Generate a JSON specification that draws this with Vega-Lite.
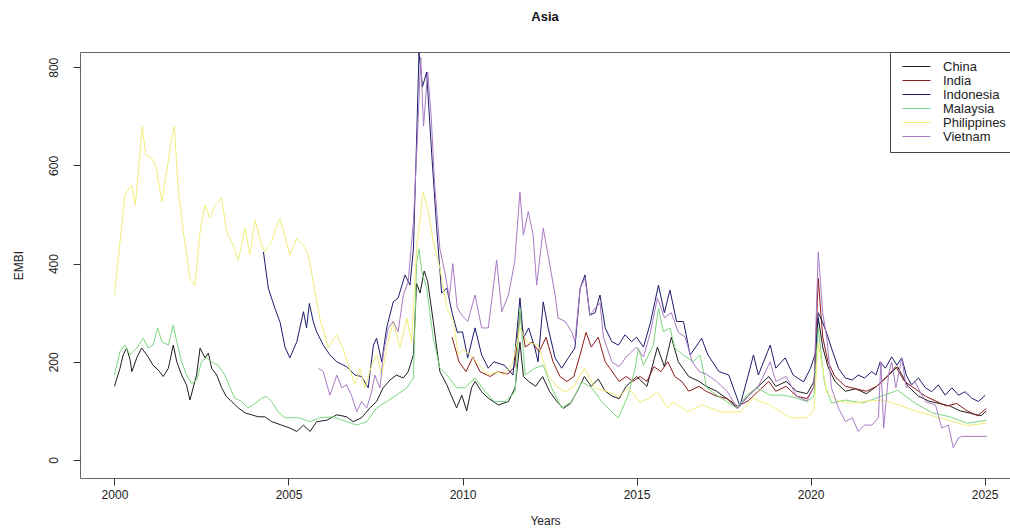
{
"$schema": "https://vega.github.io/schema/vega-lite/v6.json",
"width": 930,
"height": 426,
"autosize": {"type": "none"},
"padding": {"left": 80, "top": 52, "right": 0, "bottom": 51},
"background": "white",
"title": {"text": "Asia", "fontSize": 13, "fontWeight": "bold", "font": "Liberation Sans", "offset": 28, "anchor": "middle", "color": "#111"},
"config": {
  "view": {"stroke": "#666", "strokeWidth": 1},
  "axis": {"grid": false, "domain": false, "tickColor": "#333", "tickSize": 7, "labelColor": "#222", "labelFont": "Liberation Sans", "labelFontSize": 12, "titleFont": "Liberation Sans", "titleFontSize": 12, "titleFontWeight": "normal", "titleColor": "#222"}
},
"datasets": {
"d": [
{"s":"China","t":2000.00,"v":150},{"s":"China","t":2000.16,"v":187},{"s":"China","t":2000.25,"v":214},{"s":"China","t":2000.35,"v":228},{"s":"China","t":2000.45,"v":204},{"s":"China","t":2000.50,"v":180},{"s":"China","t":2000.64,"v":208},{"s":"China","t":2000.78,"v":228},{"s":"China","t":2000.93,"v":214},{"s":"China","t":2001.11,"v":193},{"s":"China","t":2001.26,"v":183},{"s":"China","t":2001.40,"v":170},{"s":"China","t":2001.55,"v":187},{"s":"China","t":2001.69,"v":234},{"s":"China","t":2001.79,"v":200},{"s":"China","t":2001.93,"v":173},{"s":"China","t":2002.07,"v":153},{"s":"China","t":2002.17,"v":122},{"s":"China","t":2002.26,"v":147},{"s":"China","t":2002.36,"v":173},{"s":"China","t":2002.46,"v":228},{"s":"China","t":2002.60,"v":208},{"s":"China","t":2002.70,"v":218},{"s":"China","t":2002.79,"v":187},{"s":"China","t":2002.94,"v":173},{"s":"China","t":2003.08,"v":147},{"s":"China","t":2003.22,"v":129},{"s":"China","t":2003.37,"v":119},{"s":"China","t":2003.56,"v":106},{"s":"China","t":2003.75,"v":96},{"s":"China","t":2003.94,"v":92},{"s":"China","t":2004.13,"v":88},{"s":"China","t":2004.32,"v":88},{"s":"China","t":2004.52,"v":78},{"s":"China","t":2004.80,"v":71},{"s":"China","t":2005.04,"v":65},{"s":"China","t":2005.24,"v":58},{"s":"China","t":2005.43,"v":71},{"s":"China","t":2005.62,"v":58},{"s":"China","t":2005.81,"v":78},{"s":"China","t":2006.10,"v":81},{"s":"China","t":2006.39,"v":92},{"s":"China","t":2006.67,"v":88},{"s":"China","t":2006.86,"v":78},{"s":"China","t":2007.10,"v":86},{"s":"China","t":2007.34,"v":106},{"s":"China","t":2007.53,"v":119},{"s":"China","t":2007.72,"v":147},{"s":"China","t":2007.92,"v":163},{"s":"China","t":2008.10,"v":173},{"s":"China","t":2008.30,"v":167},{"s":"China","t":2008.44,"v":180},{"s":"China","t":2008.59,"v":214},{"s":"China","t":2008.68,"v":360},{"s":"China","t":2008.78,"v":340},{"s":"China","t":2008.90,"v":385},{"s":"China","t":2009.00,"v":363},{"s":"China","t":2009.16,"v":282},{"s":"China","t":2009.35,"v":180},{"s":"China","t":2009.55,"v":153},{"s":"China","t":2009.83,"v":106},{"s":"China","t":2009.98,"v":132},{"s":"China","t":2010.12,"v":100},{"s":"China","t":2010.26,"v":147},{"s":"China","t":2010.36,"v":160},{"s":"China","t":2010.55,"v":139},{"s":"China","t":2010.74,"v":126},{"s":"China","t":2011.03,"v":112},{"s":"China","t":2011.32,"v":119},{"s":"China","t":2011.51,"v":147},{"s":"China","t":2011.65,"v":240},{"s":"China","t":2011.75,"v":170},{"s":"China","t":2011.90,"v":160},{"s":"China","t":2012.10,"v":150},{"s":"China","t":2012.30,"v":170},{"s":"China","t":2012.50,"v":140},{"s":"China","t":2012.70,"v":120},{"s":"China","t":2012.90,"v":105},{"s":"China","t":2013.10,"v":115},{"s":"China","t":2013.30,"v":140},{"s":"China","t":2013.50,"v":170},{"s":"China","t":2013.70,"v":150},{"s":"China","t":2013.90,"v":165},{"s":"China","t":2014.10,"v":140},{"s":"China","t":2014.30,"v":130},{"s":"China","t":2014.50,"v":125},{"s":"China","t":2014.70,"v":150},{"s":"China","t":2015.00,"v":170},{"s":"China","t":2015.30,"v":150},{"s":"China","t":2015.60,"v":230},{"s":"China","t":2015.80,"v":190},{"s":"China","t":2016.00,"v":250},{"s":"China","t":2016.20,"v":200},{"s":"China","t":2016.50,"v":170},{"s":"China","t":2016.80,"v":160},{"s":"China","t":2017.00,"v":150},{"s":"China","t":2017.30,"v":140},{"s":"China","t":2017.60,"v":125},{"s":"China","t":2017.90,"v":105},{"s":"China","t":2018.20,"v":130},{"s":"China","t":2018.50,"v":150},{"s":"China","t":2018.80,"v":170},{"s":"China","t":2019.00,"v":150},{"s":"China","t":2019.30,"v":160},{"s":"China","t":2019.60,"v":140},{"s":"China","t":2019.90,"v":135},{"s":"China","t":2020.10,"v":160},{"s":"China","t":2020.22,"v":290},{"s":"China","t":2020.35,"v":230},{"s":"China","t":2020.50,"v":190},{"s":"China","t":2020.70,"v":160},{"s":"China","t":2021.00,"v":140},{"s":"China","t":2021.30,"v":145},{"s":"China","t":2021.60,"v":135},{"s":"China","t":2021.90,"v":150},{"s":"China","t":2022.20,"v":170},{"s":"China","t":2022.50,"v":190},{"s":"China","t":2022.80,"v":150},{"s":"China","t":2023.10,"v":130},{"s":"China","t":2023.40,"v":120},{"s":"China","t":2023.70,"v":115},{"s":"China","t":2024.00,"v":110},{"s":"China","t":2024.30,"v":100},{"s":"China","t":2024.60,"v":95},{"s":"China","t":2024.90,"v":90},{"s":"China","t":2025.05,"v":100},
{"s":"India","t":2009.70,"v":250},{"s":"India","t":2009.90,"v":200},{"s":"India","t":2010.10,"v":180},{"s":"India","t":2010.30,"v":210},{"s":"India","t":2010.50,"v":180},{"s":"India","t":2010.80,"v":170},{"s":"India","t":2011.00,"v":180},{"s":"India","t":2011.30,"v":175},{"s":"India","t":2011.50,"v":190},{"s":"India","t":2011.65,"v":300},{"s":"India","t":2011.80,"v":230},{"s":"India","t":2012.00,"v":240},{"s":"India","t":2012.20,"v":220},{"s":"India","t":2012.40,"v":250},{"s":"India","t":2012.60,"v":200},{"s":"India","t":2012.80,"v":170},{"s":"India","t":2013.00,"v":160},{"s":"India","t":2013.20,"v":170},{"s":"India","t":2013.40,"v":220},{"s":"India","t":2013.55,"v":260},{"s":"India","t":2013.70,"v":230},{"s":"India","t":2013.90,"v":250},{"s":"India","t":2014.10,"v":200},{"s":"India","t":2014.30,"v":180},{"s":"India","t":2014.50,"v":160},{"s":"India","t":2014.70,"v":170},{"s":"India","t":2014.90,"v":160},{"s":"India","t":2015.10,"v":170},{"s":"India","t":2015.30,"v":160},{"s":"India","t":2015.50,"v":190},{"s":"India","t":2015.70,"v":180},{"s":"India","t":2015.90,"v":200},{"s":"India","t":2016.10,"v":170},{"s":"India","t":2016.30,"v":160},{"s":"India","t":2016.50,"v":140},{"s":"India","t":2016.80,"v":150},{"s":"India","t":2017.00,"v":140},{"s":"India","t":2017.30,"v":130},{"s":"India","t":2017.60,"v":125},{"s":"India","t":2017.90,"v":110},{"s":"India","t":2018.20,"v":120},{"s":"India","t":2018.50,"v":140},{"s":"India","t":2018.80,"v":160},{"s":"India","t":2019.00,"v":140},{"s":"India","t":2019.30,"v":150},{"s":"India","t":2019.60,"v":130},{"s":"India","t":2019.90,"v":125},{"s":"India","t":2020.10,"v":150},{"s":"India","t":2020.22,"v":370},{"s":"India","t":2020.35,"v":250},{"s":"India","t":2020.50,"v":200},{"s":"India","t":2020.70,"v":170},{"s":"India","t":2021.00,"v":150},{"s":"India","t":2021.30,"v":145},{"s":"India","t":2021.60,"v":140},{"s":"India","t":2021.90,"v":150},{"s":"India","t":2022.20,"v":170},{"s":"India","t":2022.45,"v":190},{"s":"India","t":2022.70,"v":160},{"s":"India","t":2023.00,"v":145},{"s":"India","t":2023.30,"v":130},{"s":"India","t":2023.60,"v":120},{"s":"India","t":2023.90,"v":110},{"s":"India","t":2024.20,"v":115},{"s":"India","t":2024.50,"v":100},{"s":"India","t":2024.80,"v":90},{"s":"India","t":2025.05,"v":105},
{"s":"Indonesia","t":2004.28,"v":424},{"s":"Indonesia","t":2004.42,"v":350},{"s":"Indonesia","t":2004.61,"v":309},{"s":"Indonesia","t":2004.76,"v":280},{"s":"Indonesia","t":2004.90,"v":230},{"s":"Indonesia","t":2005.04,"v":208},{"s":"Indonesia","t":2005.24,"v":241},{"s":"Indonesia","t":2005.43,"v":302},{"s":"Indonesia","t":2005.52,"v":269},{"s":"Indonesia","t":2005.60,"v":319},{"s":"Indonesia","t":2005.71,"v":282},{"s":"Indonesia","t":2005.81,"v":261},{"s":"Indonesia","t":2006.00,"v":234},{"s":"Indonesia","t":2006.19,"v":214},{"s":"Indonesia","t":2006.39,"v":200},{"s":"Indonesia","t":2006.67,"v":190},{"s":"Indonesia","t":2006.91,"v":173},{"s":"Indonesia","t":2007.10,"v":170},{"s":"Indonesia","t":2007.29,"v":147},{"s":"Indonesia","t":2007.44,"v":234},{"s":"Indonesia","t":2007.53,"v":248},{"s":"Indonesia","t":2007.68,"v":200},{"s":"Indonesia","t":2007.82,"v":269},{"s":"Indonesia","t":2008.01,"v":322},{"s":"Indonesia","t":2008.15,"v":330},{"s":"Indonesia","t":2008.35,"v":377},{"s":"Indonesia","t":2008.49,"v":356},{"s":"Indonesia","t":2008.59,"v":430},{"s":"Indonesia","t":2008.68,"v":650},{"s":"Indonesia","t":2008.75,"v":830},{"s":"Indonesia","t":2008.85,"v":760},{"s":"Indonesia","t":2008.97,"v":790},{"s":"Indonesia","t":2009.10,"v":640},{"s":"Indonesia","t":2009.25,"v":480},{"s":"Indonesia","t":2009.40,"v":340},{"s":"Indonesia","t":2009.55,"v":350},{"s":"Indonesia","t":2009.70,"v":300},{"s":"Indonesia","t":2009.85,"v":260},{"s":"Indonesia","t":2010.00,"v":261},{"s":"Indonesia","t":2010.15,"v":208},{"s":"Indonesia","t":2010.36,"v":269},{"s":"Indonesia","t":2010.55,"v":214},{"s":"Indonesia","t":2010.74,"v":187},{"s":"Indonesia","t":2010.90,"v":200},{"s":"Indonesia","t":2011.20,"v":193},{"s":"Indonesia","t":2011.45,"v":173},{"s":"Indonesia","t":2011.65,"v":330},{"s":"Indonesia","t":2011.75,"v":248},{"s":"Indonesia","t":2011.90,"v":269},{"s":"Indonesia","t":2012.08,"v":228},{"s":"Indonesia","t":2012.17,"v":200},{"s":"Indonesia","t":2012.32,"v":322},{"s":"Indonesia","t":2012.46,"v":269},{"s":"Indonesia","t":2012.66,"v":208},{"s":"Indonesia","t":2012.85,"v":187},{"s":"Indonesia","t":2013.04,"v":208},{"s":"Indonesia","t":2013.23,"v":228},{"s":"Indonesia","t":2013.38,"v":350},{"s":"Indonesia","t":2013.52,"v":377},{"s":"Indonesia","t":2013.66,"v":295},{"s":"Indonesia","t":2013.81,"v":300},{"s":"Indonesia","t":2013.95,"v":336},{"s":"Indonesia","t":2014.10,"v":269},{"s":"Indonesia","t":2014.29,"v":241},{"s":"Indonesia","t":2014.48,"v":234},{"s":"Indonesia","t":2014.67,"v":255},{"s":"Indonesia","t":2014.86,"v":241},{"s":"Indonesia","t":2015.00,"v":250},{"s":"Indonesia","t":2015.20,"v":230},{"s":"Indonesia","t":2015.40,"v":280},{"s":"Indonesia","t":2015.63,"v":356},{"s":"Indonesia","t":2015.80,"v":300},{"s":"Indonesia","t":2015.96,"v":346},{"s":"Indonesia","t":2016.15,"v":282},{"s":"Indonesia","t":2016.35,"v":282},{"s":"Indonesia","t":2016.54,"v":214},{"s":"Indonesia","t":2016.70,"v":230},{"s":"Indonesia","t":2016.87,"v":248},{"s":"Indonesia","t":2017.05,"v":214},{"s":"Indonesia","t":2017.37,"v":180},{"s":"Indonesia","t":2017.65,"v":173},{"s":"Indonesia","t":2017.97,"v":110},{"s":"Indonesia","t":2018.20,"v":170},{"s":"Indonesia","t":2018.36,"v":214},{"s":"Indonesia","t":2018.50,"v":173},{"s":"Indonesia","t":2018.84,"v":234},{"s":"Indonesia","t":2019.00,"v":187},{"s":"Indonesia","t":2019.27,"v":208},{"s":"Indonesia","t":2019.50,"v":173},{"s":"Indonesia","t":2019.80,"v":159},{"s":"Indonesia","t":2020.00,"v":187},{"s":"Indonesia","t":2020.15,"v":220},{"s":"Indonesia","t":2020.22,"v":300},{"s":"Indonesia","t":2020.35,"v":280},{"s":"Indonesia","t":2020.48,"v":255},{"s":"Indonesia","t":2020.60,"v":228},{"s":"Indonesia","t":2020.80,"v":187},{"s":"Indonesia","t":2021.00,"v":167},{"s":"Indonesia","t":2021.20,"v":163},{"s":"Indonesia","t":2021.37,"v":173},{"s":"Indonesia","t":2021.55,"v":167},{"s":"Indonesia","t":2021.76,"v":180},{"s":"Indonesia","t":2021.88,"v":173},{"s":"Indonesia","t":2022.00,"v":200},{"s":"Indonesia","t":2022.15,"v":187},{"s":"Indonesia","t":2022.33,"v":210},{"s":"Indonesia","t":2022.48,"v":193},{"s":"Indonesia","t":2022.62,"v":208},{"s":"Indonesia","t":2022.75,"v":173},{"s":"Indonesia","t":2022.90,"v":153},{"s":"Indonesia","t":2023.10,"v":167},{"s":"Indonesia","t":2023.30,"v":147},{"s":"Indonesia","t":2023.48,"v":139},{"s":"Indonesia","t":2023.67,"v":153},{"s":"Indonesia","t":2023.87,"v":132},{"s":"Indonesia","t":2024.06,"v":147},{"s":"Indonesia","t":2024.25,"v":132},{"s":"Indonesia","t":2024.44,"v":139},{"s":"Indonesia","t":2024.63,"v":126},{"s":"Indonesia","t":2024.82,"v":119},{"s":"Indonesia","t":2025.02,"v":132},
{"s":"Malaysia","t":2000.00,"v":173},{"s":"Malaysia","t":2000.16,"v":221},{"s":"Malaysia","t":2000.30,"v":234},{"s":"Malaysia","t":2000.45,"v":214},{"s":"Malaysia","t":2000.64,"v":228},{"s":"Malaysia","t":2000.83,"v":248},{"s":"Malaysia","t":2000.97,"v":228},{"s":"Malaysia","t":2001.11,"v":234},{"s":"Malaysia","t":2001.24,"v":269},{"s":"Malaysia","t":2001.36,"v":241},{"s":"Malaysia","t":2001.55,"v":234},{"s":"Malaysia","t":2001.69,"v":275},{"s":"Malaysia","t":2001.79,"v":241},{"s":"Malaysia","t":2001.93,"v":200},{"s":"Malaysia","t":2002.07,"v":173},{"s":"Malaysia","t":2002.22,"v":156},{"s":"Malaysia","t":2002.36,"v":163},{"s":"Malaysia","t":2002.50,"v":200},{"s":"Malaysia","t":2002.65,"v":208},{"s":"Malaysia","t":2002.79,"v":200},{"s":"Malaysia","t":2002.98,"v":193},{"s":"Malaysia","t":2003.17,"v":173},{"s":"Malaysia","t":2003.32,"v":147},{"s":"Malaysia","t":2003.46,"v":126},{"s":"Malaysia","t":2003.65,"v":119},{"s":"Malaysia","t":2003.84,"v":106},{"s":"Malaysia","t":2004.04,"v":115},{"s":"Malaysia","t":2004.23,"v":126},{"s":"Malaysia","t":2004.37,"v":129},{"s":"Malaysia","t":2004.52,"v":119},{"s":"Malaysia","t":2004.70,"v":98},{"s":"Malaysia","t":2004.90,"v":86},{"s":"Malaysia","t":2005.04,"v":86},{"s":"Malaysia","t":2005.30,"v":86},{"s":"Malaysia","t":2005.62,"v":78},{"s":"Malaysia","t":2005.90,"v":86},{"s":"Malaysia","t":2006.28,"v":88},{"s":"Malaysia","t":2006.67,"v":78},{"s":"Malaysia","t":2006.96,"v":71},{"s":"Malaysia","t":2007.25,"v":78},{"s":"Malaysia","t":2007.53,"v":106},{"s":"Malaysia","t":2007.82,"v":119},{"s":"Malaysia","t":2008.10,"v":132},{"s":"Malaysia","t":2008.40,"v":147},{"s":"Malaysia","t":2008.59,"v":167},{"s":"Malaysia","t":2008.68,"v":400},{"s":"Malaysia","t":2008.75,"v":430},{"s":"Malaysia","t":2008.83,"v":384},{"s":"Malaysia","t":2008.97,"v":350},{"s":"Malaysia","t":2009.16,"v":248},{"s":"Malaysia","t":2009.35,"v":187},{"s":"Malaysia","t":2009.55,"v":173},{"s":"Malaysia","t":2009.83,"v":147},{"s":"Malaysia","t":2010.07,"v":147},{"s":"Malaysia","t":2010.36,"v":167},{"s":"Malaysia","t":2010.65,"v":139},{"s":"Malaysia","t":2010.93,"v":119},{"s":"Malaysia","t":2011.22,"v":119},{"s":"Malaysia","t":2011.51,"v":139},{"s":"Malaysia","t":2011.65,"v":309},{"s":"Malaysia","t":2011.80,"v":173},{"s":"Malaysia","t":2012.08,"v":187},{"s":"Malaysia","t":2012.32,"v":193},{"s":"Malaysia","t":2012.56,"v":147},{"s":"Malaysia","t":2012.85,"v":106},{"s":"Malaysia","t":2013.14,"v":119},{"s":"Malaysia","t":2013.43,"v":159},{"s":"Malaysia","t":2013.71,"v":147},{"s":"Malaysia","t":2014.00,"v":119},{"s":"Malaysia","t":2014.29,"v":98},{"s":"Malaysia","t":2014.48,"v":86},{"s":"Malaysia","t":2014.76,"v":132},{"s":"Malaysia","t":2014.96,"v":187},{"s":"Malaysia","t":2015.05,"v":228},{"s":"Malaysia","t":2015.20,"v":193},{"s":"Malaysia","t":2015.48,"v":234},{"s":"Malaysia","t":2015.63,"v":309},{"s":"Malaysia","t":2015.77,"v":261},{"s":"Malaysia","t":2015.96,"v":269},{"s":"Malaysia","t":2016.10,"v":228},{"s":"Malaysia","t":2016.34,"v":214},{"s":"Malaysia","t":2016.63,"v":200},{"s":"Malaysia","t":2016.82,"v":214},{"s":"Malaysia","t":2017.02,"v":147},{"s":"Malaysia","t":2017.30,"v":132},{"s":"Malaysia","t":2017.59,"v":119},{"s":"Malaysia","t":2017.88,"v":106},{"s":"Malaysia","t":2018.17,"v":132},{"s":"Malaysia","t":2018.45,"v":147},{"s":"Malaysia","t":2018.84,"v":132},{"s":"Malaysia","t":2019.22,"v":132},{"s":"Malaysia","t":2019.60,"v":126},{"s":"Malaysia","t":2019.89,"v":119},{"s":"Malaysia","t":2020.10,"v":130},{"s":"Malaysia","t":2020.22,"v":270},{"s":"Malaysia","t":2020.40,"v":156},{"s":"Malaysia","t":2020.60,"v":116},{"s":"Malaysia","t":2021.00,"v":122},{"s":"Malaysia","t":2021.50,"v":116},{"s":"Malaysia","t":2022.00,"v":129},{"s":"Malaysia","t":2022.50,"v":142},{"s":"Malaysia","t":2023.00,"v":116},{"s":"Malaysia","t":2023.50,"v":96},{"s":"Malaysia","t":2024.00,"v":88},{"s":"Malaysia","t":2024.50,"v":75},{"s":"Malaysia","t":2025.05,"v":81},
{"s":"Philippines","t":2000.00,"v":336},{"s":"Philippines","t":2000.30,"v":540},{"s":"Philippines","t":2000.50,"v":560},{"s":"Philippines","t":2000.60,"v":519},{"s":"Philippines","t":2000.80,"v":679},{"s":"Philippines","t":2000.90,"v":621},{"s":"Philippines","t":2001.07,"v":615},{"s":"Philippines","t":2001.20,"v":595},{"s":"Philippines","t":2001.36,"v":526},{"s":"Philippines","t":2001.50,"v":587},{"s":"Philippines","t":2001.64,"v":655},{"s":"Philippines","t":2001.72,"v":679},{"s":"Philippines","t":2001.83,"v":554},{"s":"Philippines","t":2001.98,"v":465},{"s":"Philippines","t":2002.17,"v":370},{"s":"Philippines","t":2002.31,"v":356},{"s":"Philippines","t":2002.46,"v":465},{"s":"Philippines","t":2002.60,"v":519},{"s":"Philippines","t":2002.74,"v":493},{"s":"Philippines","t":2002.89,"v":519},{"s":"Philippines","t":2003.08,"v":534},{"s":"Philippines","t":2003.22,"v":465},{"s":"Philippines","t":2003.41,"v":438},{"s":"Philippines","t":2003.56,"v":407},{"s":"Philippines","t":2003.75,"v":472},{"s":"Philippines","t":2003.89,"v":418},{"s":"Philippines","t":2004.04,"v":489},{"s":"Philippines","t":2004.23,"v":438},{"s":"Philippines","t":2004.32,"v":424},{"s":"Philippines","t":2004.52,"v":445},{"s":"Philippines","t":2004.75,"v":493},{"s":"Philippines","t":2005.04,"v":418},{"s":"Philippines","t":2005.24,"v":452},{"s":"Philippines","t":2005.42,"v":438},{"s":"Philippines","t":2005.57,"v":418},{"s":"Philippines","t":2005.71,"v":363},{"s":"Philippines","t":2005.90,"v":289},{"s":"Philippines","t":2006.14,"v":228},{"s":"Philippines","t":2006.38,"v":255},{"s":"Philippines","t":2006.57,"v":228},{"s":"Philippines","t":2006.72,"v":193},{"s":"Philippines","t":2006.91,"v":153},{"s":"Philippines","t":2007.05,"v":187},{"s":"Philippines","t":2007.20,"v":147},{"s":"Philippines","t":2007.39,"v":193},{"s":"Philippines","t":2007.53,"v":214},{"s":"Philippines","t":2007.68,"v":173},{"s":"Philippines","t":2007.82,"v":228},{"s":"Philippines","t":2008.01,"v":282},{"s":"Philippines","t":2008.20,"v":228},{"s":"Philippines","t":2008.40,"v":289},{"s":"Philippines","t":2008.54,"v":241},{"s":"Philippines","t":2008.68,"v":432},{"s":"Philippines","t":2008.87,"v":546},{"s":"Philippines","t":2009.02,"v":506},{"s":"Philippines","t":2009.16,"v":445},{"s":"Philippines","t":2009.35,"v":391},{"s":"Philippines","t":2009.55,"v":309},{"s":"Philippines","t":2009.74,"v":282},{"s":"Philippines","t":2009.88,"v":214},{"s":"Philippines","t":2010.00,"v":225},{"s":"Philippines","t":2010.20,"v":215},{"s":"Philippines","t":2010.40,"v":200},{"s":"Philippines","t":2010.73,"v":173},{"s":"Philippines","t":2011.00,"v":180},{"s":"Philippines","t":2011.20,"v":173},{"s":"Philippines","t":2011.45,"v":200},{"s":"Philippines","t":2011.65,"v":269},{"s":"Philippines","t":2011.85,"v":240},{"s":"Philippines","t":2012.17,"v":234},{"s":"Philippines","t":2012.46,"v":173},{"s":"Philippines","t":2012.70,"v":150},{"s":"Philippines","t":2012.95,"v":138},{"s":"Philippines","t":2013.20,"v":150},{"s":"Philippines","t":2013.50,"v":187},{"s":"Philippines","t":2013.80,"v":147},{"s":"Philippines","t":2014.19,"v":139},{"s":"Philippines","t":2014.50,"v":130},{"s":"Philippines","t":2014.76,"v":147},{"s":"Philippines","t":2015.10,"v":118},{"s":"Philippines","t":2015.35,"v":125},{"s":"Philippines","t":2015.60,"v":139},{"s":"Philippines","t":2015.90,"v":106},{"s":"Philippines","t":2016.05,"v":118},{"s":"Philippines","t":2016.45,"v":98},{"s":"Philippines","t":2016.90,"v":112},{"s":"Philippines","t":2017.40,"v":98},{"s":"Philippines","t":2018.00,"v":98},{"s":"Philippines","t":2018.35,"v":126},{"s":"Philippines","t":2018.84,"v":112},{"s":"Philippines","t":2019.40,"v":86},{"s":"Philippines","t":2019.90,"v":86},{"s":"Philippines","t":2020.10,"v":100},{"s":"Philippines","t":2020.22,"v":238},{"s":"Philippines","t":2020.47,"v":136},{"s":"Philippines","t":2020.80,"v":120},{"s":"Philippines","t":2021.20,"v":115},{"s":"Philippines","t":2021.60,"v":120},{"s":"Philippines","t":2022.10,"v":122},{"s":"Philippines","t":2022.60,"v":110},{"s":"Philippines","t":2023.00,"v":100},{"s":"Philippines","t":2023.50,"v":90},{"s":"Philippines","t":2024.00,"v":80},{"s":"Philippines","t":2024.50,"v":70},{"s":"Philippines","t":2025.05,"v":75},
{"s":"Vietnam","t":2005.86,"v":187},{"s":"Vietnam","t":2006.00,"v":180},{"s":"Vietnam","t":2006.19,"v":132},{"s":"Vietnam","t":2006.39,"v":173},{"s":"Vietnam","t":2006.53,"v":147},{"s":"Vietnam","t":2006.67,"v":153},{"s":"Vietnam","t":2006.81,"v":132},{"s":"Vietnam","t":2006.96,"v":98},{"s":"Vietnam","t":2007.10,"v":119},{"s":"Vietnam","t":2007.25,"v":106},{"s":"Vietnam","t":2007.39,"v":139},{"s":"Vietnam","t":2007.48,"v":173},{"s":"Vietnam","t":2007.63,"v":147},{"s":"Vietnam","t":2007.72,"v":214},{"s":"Vietnam","t":2007.87,"v":269},{"s":"Vietnam","t":2008.01,"v":282},{"s":"Vietnam","t":2008.15,"v":261},{"s":"Vietnam","t":2008.30,"v":336},{"s":"Vietnam","t":2008.44,"v":363},{"s":"Vietnam","t":2008.59,"v":485},{"s":"Vietnam","t":2008.70,"v":650},{"s":"Vietnam","t":2008.80,"v":820},{"s":"Vietnam","t":2008.88,"v":680},{"s":"Vietnam","t":2009.00,"v":790},{"s":"Vietnam","t":2009.10,"v":700},{"s":"Vietnam","t":2009.20,"v":560},{"s":"Vietnam","t":2009.35,"v":430},{"s":"Vietnam","t":2009.50,"v":380},{"s":"Vietnam","t":2009.62,"v":330},{"s":"Vietnam","t":2009.72,"v":400},{"s":"Vietnam","t":2009.85,"v":310},{"s":"Vietnam","t":2009.98,"v":295},{"s":"Vietnam","t":2010.15,"v":282},{"s":"Vietnam","t":2010.36,"v":336},{"s":"Vietnam","t":2010.55,"v":269},{"s":"Vietnam","t":2010.74,"v":269},{"s":"Vietnam","t":2010.98,"v":407},{"s":"Vietnam","t":2011.13,"v":302},{"s":"Vietnam","t":2011.32,"v":336},{"s":"Vietnam","t":2011.50,"v":404},{"s":"Vietnam","t":2011.65,"v":546},{"s":"Vietnam","t":2011.75,"v":458},{"s":"Vietnam","t":2011.89,"v":506},{"s":"Vietnam","t":2012.03,"v":458},{"s":"Vietnam","t":2012.13,"v":356},{"s":"Vietnam","t":2012.32,"v":472},{"s":"Vietnam","t":2012.51,"v":397},{"s":"Vietnam","t":2012.66,"v":336},{"s":"Vietnam","t":2012.75,"v":289},{"s":"Vietnam","t":2012.95,"v":282},{"s":"Vietnam","t":2013.14,"v":261},{"s":"Vietnam","t":2013.23,"v":241},{"s":"Vietnam","t":2013.38,"v":350},{"s":"Vietnam","t":2013.52,"v":370},{"s":"Vietnam","t":2013.66,"v":295},{"s":"Vietnam","t":2013.81,"v":309},{"s":"Vietnam","t":2013.95,"v":320},{"s":"Vietnam","t":2014.05,"v":250},{"s":"Vietnam","t":2014.29,"v":200},{"s":"Vietnam","t":2014.50,"v":190},{"s":"Vietnam","t":2014.70,"v":210},{"s":"Vietnam","t":2014.86,"v":220},{"s":"Vietnam","t":2015.00,"v":230},{"s":"Vietnam","t":2015.20,"v":210},{"s":"Vietnam","t":2015.40,"v":260},{"s":"Vietnam","t":2015.60,"v":330},{"s":"Vietnam","t":2015.80,"v":290},{"s":"Vietnam","t":2016.00,"v":300},{"s":"Vietnam","t":2016.20,"v":260},{"s":"Vietnam","t":2016.40,"v":250},{"s":"Vietnam","t":2016.60,"v":200},{"s":"Vietnam","t":2016.80,"v":180},{"s":"Vietnam","t":2017.00,"v":175},{"s":"Vietnam","t":2017.30,"v":160},{"s":"Vietnam","t":2017.60,"v":140},{"s":"Vietnam","t":2017.90,"v":105},{"s":"Vietnam","t":2018.20,"v":130},{"s":"Vietnam","t":2018.50,"v":150},{"s":"Vietnam","t":2018.84,"v":200},{"s":"Vietnam","t":2019.00,"v":160},{"s":"Vietnam","t":2019.30,"v":170},{"s":"Vietnam","t":2019.60,"v":130},{"s":"Vietnam","t":2019.90,"v":120},{"s":"Vietnam","t":2020.10,"v":150},{"s":"Vietnam","t":2020.22,"v":424},{"s":"Vietnam","t":2020.35,"v":300},{"s":"Vietnam","t":2020.48,"v":241},{"s":"Vietnam","t":2020.60,"v":147},{"s":"Vietnam","t":2020.80,"v":106},{"s":"Vietnam","t":2021.00,"v":78},{"s":"Vietnam","t":2021.20,"v":86},{"s":"Vietnam","t":2021.37,"v":58},{"s":"Vietnam","t":2021.55,"v":71},{"s":"Vietnam","t":2021.76,"v":71},{"s":"Vietnam","t":2021.95,"v":86},{"s":"Vietnam","t":2022.02,"v":200},{"s":"Vietnam","t":2022.10,"v":65},{"s":"Vietnam","t":2022.24,"v":173},{"s":"Vietnam","t":2022.33,"v":200},{"s":"Vietnam","t":2022.45,"v":147},{"s":"Vietnam","t":2022.62,"v":208},{"s":"Vietnam","t":2022.75,"v":147},{"s":"Vietnam","t":2023.00,"v":159},{"s":"Vietnam","t":2023.30,"v":119},{"s":"Vietnam","t":2023.59,"v":112},{"s":"Vietnam","t":2023.77,"v":65},{"s":"Vietnam","t":2023.96,"v":71},{"s":"Vietnam","t":2024.10,"v":25},{"s":"Vietnam","t":2024.25,"v":45},{"s":"Vietnam","t":2024.34,"v":48},{"s":"Vietnam","t":2025.06,"v":48}
]
},
"data": {"name": "d"},
"mark": {"type": "line", "strokeWidth": 1, "clip": true},
"encoding": {
  "x": {"field": "t", "type": "quantitative", "scale": {"domain": [1999.01, 2025.73], "nice": false, "zero": false},
        "axis": {"values": [2000, 2005, 2010, 2015, 2020, 2025], "format": "d", "labelPadding": 4, "title": "Years", "titlePadding": 15}},
  "y": {"field": "v", "type": "quantitative", "scale": {"domain": [-36.7, 831], "nice": false, "zero": false},
        "axis": {"values": [0, 200, 400, 600, 800], "labelAngle": -90, "labelAlign": "center", "labelBaseline": "bottom", "labelPadding": 13, "title": "EMBI", "titlePadding": 22}},
  "color": {"field": "s", "type": "nominal",
    "scale": {"domain": ["China", "India", "Indonesia", "Malaysia", "Philippines", "Vietnam"], "range": ["#1e1e1e", "#8b1a1a", "#1c1c6b", "#7cd67c", "#f2ee7a", "#a77bc4"]},
    "legend": {"orient": "none", "legendX": 810, "legendY": 0, "title": null, "symbolType": "M-2.33,0H2.33", "symbolSize": 144, "symbolStrokeWidth": 1, "symbolOffset": 12, "labelFont": "Liberation Sans", "labelFontSize": 13, "labelColor": "#222", "labelOffset": 20, "padding": 8, "rowPadding": 0, "strokeColor": "#444", "fillColor": "white"}}
}
}
